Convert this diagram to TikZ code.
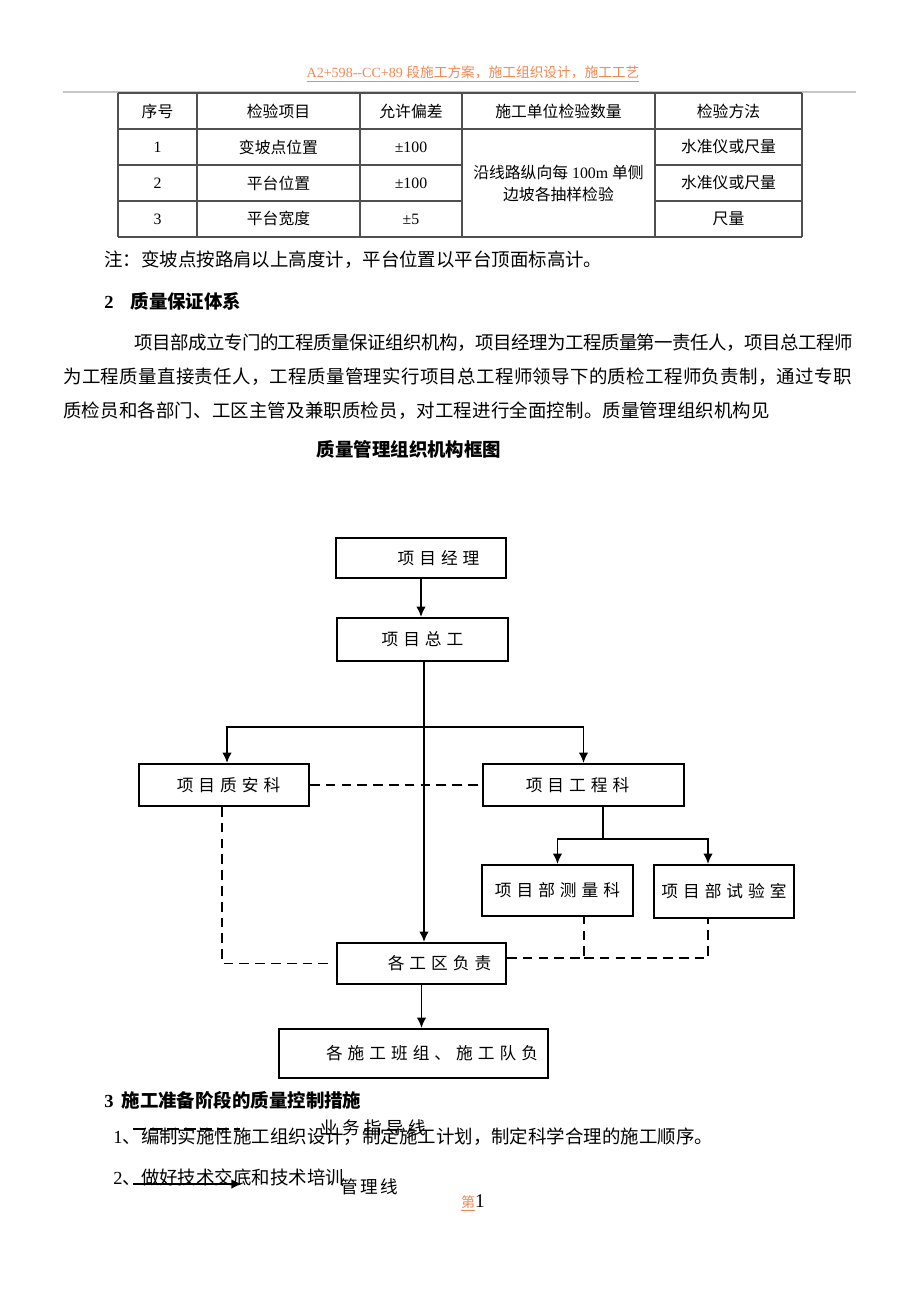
\documentclass[tikz,border=0pt]{standalone}
\usepackage{fontspec}
\setmainfont{Liberation Serif}
\newfontfamily\zh{Noto Sans CJK SC}
\usetikzlibrary{arrows.meta}

\definecolor{hdrorange}{RGB}{238,138,85}
\definecolor{gridgray}{RGB}{80,80,80}
\newcommand{\bodyfont}{\fontsize{10.5pt}{12pt}\selectfont}
\newcommand{\cellfont}{\fontsize{9pt}{13pt}\selectfont}
\newcommand{\boxfont}{\fontsize{9.5pt}{11pt}\selectfont\zh\addfontfeature{LetterSpace=30}}

\tikzset{
  txt/.style={anchor=west, inner sep=0pt, font=\bodyfont},
  cell/.style={inner sep=0pt, font=\cellfont, align=center},
  box/.style={draw, line width=1.1pt, inner sep=0pt, font=\boxfont},
  link/.style={line width=1.1pt, -{Latex[length=6pt,width=5.5pt]}},
  tie/.style={line width=1.1pt},
  guide/.style={line width=1.1pt, dash pattern=on 5.5pt off 3.5pt},
  grid line/.style={line width=0.6pt, draw=gridgray},
}

\begin{document}
\begin{tikzpicture}[x=0.02cm, y=-0.02cm]
    \useasboundingbox[fill=white] (0,0) rectangle (920,1302);

    % page header
    \node[inner sep=0pt, text=hdrorange] (hdr) at (473,74)
        {\underline{\fontsize{8pt}{10pt}\selectfont A2+598-{}-CC+89 {\zh\fontsize{7.8pt}{10pt}\selectfont 段施工方案，施工组织设计，施工工艺}}};
    \draw[gray!45, line width=1.2pt] (63,92) -- (856,92);

    % table grid
    \foreach \x in {118,197,360,462,655,802}
        \draw[grid line] (\x,93) -- (\x,237);
    \foreach \y in {93,129,237}
        \draw[grid line] (118,\y) -- (802,\y);
    \foreach \y in {165,201} {
        \draw[grid line] (118,\y) -- (462,\y);
        \draw[grid line] (655,\y) -- (802,\y);
    }

    % table head
    \foreach \name/\x/\lab in {h1/157.5/序号, h2/278.5/检验项目, h3/411/允许偏差,
                                h4/558.5/施工单位检验数量, h5/728.5/检验方法}
        \node[cell] (\name) at (\x,111) {\zh\lab};

    % table rows
    \foreach \r/\y/\what/\tol/\how in {1/147/变坡点位置/±100/水准仪或尺量,
                                       2/183/平台位置/±100/水准仪或尺量,
                                       3/219/平台宽度/±5/尺量} {
        \node[cell] (no-\r) at (157.5,\y) {\r};
        \node[cell] (what-\r) at (278.5,\y) {\zh\what};
        \node[cell] (tol-\r) at (411,\y) {\tol};
        \node[cell] (how-\r) at (728.5,\y) {\zh\how};
    }
    \node[cell] (qty) at (558.5,183.5) {{\zh 沿线路纵向每} 100m {\zh 单侧}\\{\zh 边坡各抽样检验}};

    % text above the chart
    \node[txt] (note) at (104,260) {\zh 注：变坡点按路肩以上高度计，平台位置以平台顶面标高计。};
    \node[txt] (sec2) at (104,301) {\bfseries 2\hspace{0.34cm}{\zh\bfseries 质量保证体系}};
    \node[txt] (par1) at (134,343) {\zh\addfontfeature{LetterSpace=-2.7}项目部成立专门的工程质量保证组织机构，项目经理为工程质量第一责任人，项目总工程师};
    \node[txt] (par2) at (63,377) {\zh\addfontfeature{LetterSpace=1.8}为工程质量直接责任人，工程质量管理实行项目总工程师领导下的质检工程师负责制，通过专职};
    \node[txt] (par3) at (63,411) {\zh\addfontfeature{LetterSpace=0.8}质检员和各部门、工区主管及兼职质检员，对工程进行全面控制。质量管理组织机构见};
    \node[inner sep=0pt, font=\bodyfont] (title) at (409,449) {\zh\bfseries 质量管理组织机构框图};

    % chart boxes
    \node[box, minimum width=3.4cm, minimum height=0.8cm] (pm) at (421,558) {\hspace*{0.7cm}项目经理};
    \node[box, minimum width=3.42cm, minimum height=0.86cm] (zg) at (422.5,639.5) {项目总工};
    \node[box, minimum width=3.4cm, minimum height=0.84cm] (za) at (224,785) {\hspace*{0.18cm}项目质安科};
    \node[box, minimum width=4.02cm, minimum height=0.84cm] (gc) at (583.5,785) {项目工程科\hspace*{0.24cm}};
    \node[box, minimum width=3.02cm, minimum height=1.02cm] (cl) at (557.5,890.5) {项目部测量科};
    \node[box, minimum width=2.8cm, minimum height=1.06cm] (sy) at (724,891.5) {项目部试验室};
    \node[box, minimum width=3.38cm, minimum height=0.82cm] (gq) at (421.5,963.5) {\hspace*{0.72cm}各工区负责};
    \node[box, minimum width=5.38cm, minimum height=0.98cm] (bz) at (413.5,1053.5) {\hspace*{0.74cm}各施工班组、施工队负};

    % solid management lines
    \coordinate (fork) at (424,727);
    \coordinate (split) at (603,839);
    \draw[link] (pm.south) -- (pm.south |- zg.north);
    \draw[link] (zg.south -| fork) -- (fork |- gq.north);
    \draw[link] (fork) -| ([xshift=0.06cm]za.north);
    \draw[link] (fork) -| (gc.north);
    \draw[tie] (gc.south -| split) -- (split);
    \draw[link] (split) -| (cl.north);
    \draw[link] (split) -| ([xshift=-0.32cm]sy.north);
    \draw[link] (gq.south) -- (gq.south |- bz.north);

    % dashed guidance lines
    \coordinate (cl-drop) at (584,958);
    \coordinate (sy-drop) at (708,958);
    \draw[guide] (za) -- (gc);
    \draw[guide] ([xshift=-0.04cm]za.south) |- ([xshift=-0.14cm]gq.west);
    \draw[guide] (gq.east |- cl-drop) -- (cl-drop) -- (cl-drop |- cl.south);
    \draw[guide] (cl-drop) -- (sy-drop) -- (sy-drop |- sy.south);

    % text below the chart
    \node[txt] (sec3) at (104,1100) {\bfseries 3\hspace{0.16cm}{\zh\bfseries 施工准备阶段的质量控制措施}};
    \node[txt] (item1) at (113,1137) {1{\zh 、编制实施性施工组织设计，制定施工计划，制定科学合理的施工顺序。}};
    \node[txt] (item2) at (113,1177) {2{\zh 、做好技术交底和技术培训}};

    % legend
    \coordinate (g-a) at (133,1129);
    \coordinate (g-b) at (240,1129);
    \draw[line width=1.2pt, dash pattern=on 6.8pt off 2.8pt] (g-a) -- (g-b);
    \node[anchor=west, inner sep=0pt, font=\fontsize{10pt}{12pt}\selectfont\zh\addfontfeature{LetterSpace=25}] (guide-lab) at (320,1128) {业务指导线};
    \coordinate (m-a) at (133,1184);
    \coordinate (m-b) at (242,1184);
    \draw[link] (m-a) -- (m-b);
    \node[anchor=west, inner sep=0pt, font=\fontsize{10pt}{12pt}\selectfont\zh\addfontfeature{LetterSpace=14}] (mgmt-lab) at (340,1187) {管理线};

    % page number
    \node[inner sep=0pt] (pg) at (473,1203)
        {{\color{hdrorange}\underline{\fontsize{8pt}{10pt}\selectfont\zh 第}}\fontsize{11pt}{12pt}\selectfont 1};
\end{tikzpicture}
\end{document}
